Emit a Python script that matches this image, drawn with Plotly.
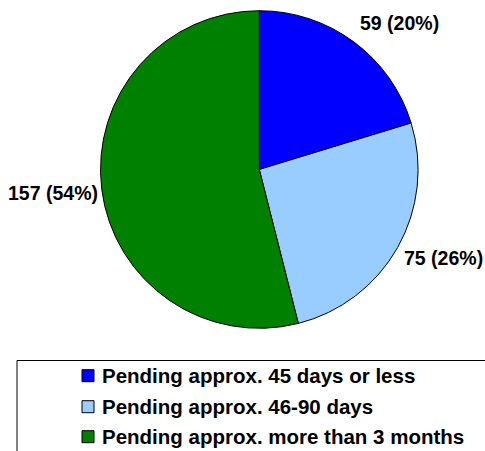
import plotly.graph_objects as go

# datos del grafico
categorias = ["Pending approx. 45 days or less",
              "Pending approx. 46-90 days",
              "Pending approx. more than 3 months"]
valores = [59, 75, 157]
colores = ["#0000FF", "#99CCFF", "#008000"]

W, H = 485, 451
FUENTE = "Liberation Sans, Arial, sans-serif"

def px_x(x):
    return x / W

def px_y(y):
    return 1 - y / H

total = sum(valores)
porcentajes = [round(v * 100 / total) for v in valores]

fig = go.Figure()
fig.add_trace(go.Pie(
    labels=categorias, values=valores,
    marker=dict(colors=colores, line=dict(color="#000000", width=1)),
    sort=False, direction="clockwise", rotation=0,
    textinfo="none", hoverinfo="label+value+percent",
    showlegend=False,
    domain=dict(x=[px_x(100.5), px_x(418.1)], y=[px_y(328.3), px_y(10.7)]),
))

# etiquetas de las porciones (centro en pixeles)
pos_etiquetas = [(399.5, 23), (443, 258), (52.5, 193)]
for v, p, (ex, ey) in zip(valores, porcentajes, pos_etiquetas):
    fig.add_annotation(x=px_x(ex), y=px_y(ey), xref="paper", yref="paper",
                       text=f"<b>{v} ({p}%)</b>", showarrow=False,
                       xanchor="center", yanchor="middle",
                       font=dict(family=FUENTE, size=19.5, color="#000000"))

# leyenda manual
fig.add_shape(type="rect", xref="paper", yref="paper",
              x0=px_x(17), x1=1.1, y0=-0.1, y1=px_y(360.5),
              line=dict(color="#000000", width=1), fillcolor="rgba(0,0,0,0)")
filas_y = [375.7, 406.7, 436.7]
for nombre, color, fy in zip(categorias, colores, filas_y):
    fig.add_shape(type="rect", xref="paper", yref="paper",
                  x0=px_x(82), x1=px_x(94), y0=px_y(fy + 6), y1=px_y(fy - 6),
                  line=dict(color="#000000", width=1), fillcolor=color)
    fig.add_annotation(x=px_x(100), y=px_y(fy), xref="paper", yref="paper",
                       text=f"<b>{nombre}</b>", showarrow=False,
                       xanchor="left", yanchor="middle",
                       font=dict(family=FUENTE, size=20.5, color="#000000"))

fig.update_layout(
    width=W, height=H,
    margin=dict(l=0, r=0, t=0, b=0),
    paper_bgcolor="#FFFFFF", plot_bgcolor="#FFFFFF",
    showlegend=False,
)

# sin margen en el body para que la figura ocupe toda la ventana
fig.write_html("out.html", config={"displayModeBar": False},
               post_script="document.body.style.margin='0';document.body.style.overflow='hidden';")
